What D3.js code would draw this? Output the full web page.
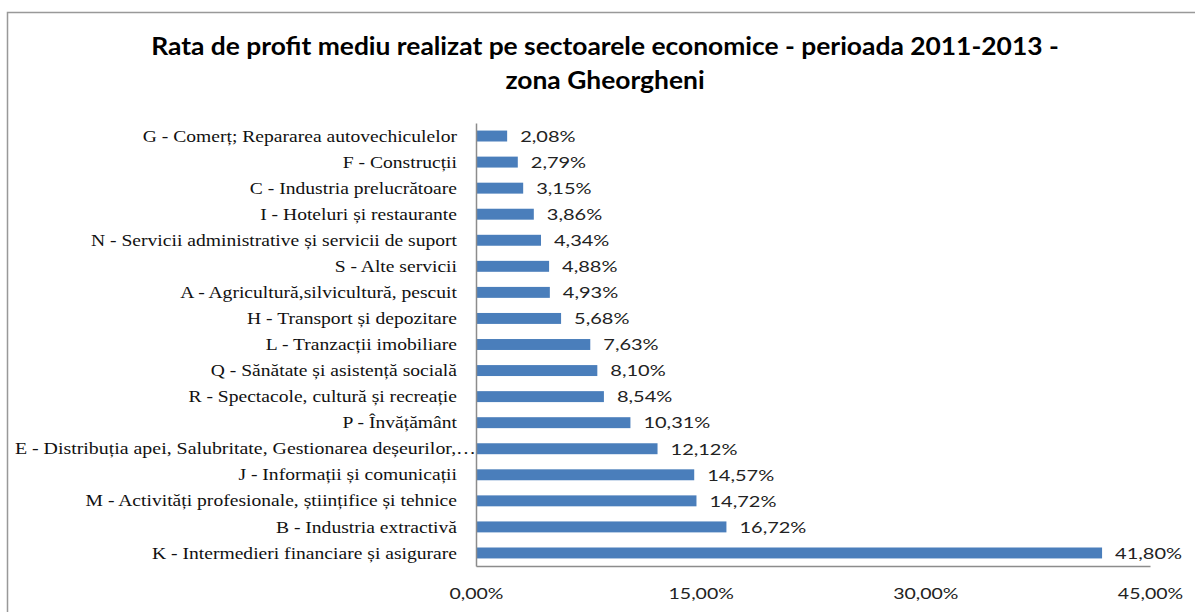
<!DOCTYPE html>
<html>
<head>
<meta charset="utf-8">
<script src="https://cdn.jsdelivr.net/npm/d3@7"></script>
<style>
  html, body { margin: 0; padding: 0; background: #fff; }
  svg { display: block; }
</style>
</head>
<body>
<svg id="chart" width="1195" height="612"></svg>
<script>
const categories = [
  "G - Comerț; Repararea autovechiculelor",
  "F - Construcții",
  "C - Industria prelucrătoare",
  "I - Hoteluri  și restaurante",
  "N - Servicii  administrative  și servicii  de suport",
  "S - Alte servicii",
  "A - Agricultură,silvicultură, pescuit",
  "H - Transport și depozitare",
  "L - Tranzacții imobiliare",
  "Q - Sănătate și asistență socială",
  "R - Spectacole, cultură și recreație",
  "P - Învățământ",
  "E - Distribuția  apei, Salubritate, Gestionarea deșeurilor,…",
  "J - Informații  și comunicații",
  "M - Activități  profesionale, științifice  și tehnice",
  "B - Industria extractivă",
  "K - Intermedieri  financiare  și asigurare"
];
const values = [2.08, 2.79, 3.15, 3.86, 4.34, 4.88, 4.93, 5.68, 7.63, 8.10, 8.54, 10.31, 12.12, 14.57, 14.72, 16.72, 41.80];
const tickValues = [0, 15, 30, 45];
const titleLines = ["Rata de profit mediu realizat pe sectoarele economice - perioada 2011-2013 -", "zona Gheorgheni"];

const svg = d3.select("#chart");
const fmt = v => v.toFixed(2).replace(".", ",") + "%";
const SANS = "Lato, 'Open Sans', sans-serif";

// outer frame
svg.append("rect")
  .attr("x", 7.5).attr("y", 12.5)
  .attr("width", 1300).attr("height", 800)
  .attr("fill", "none").attr("stroke", "#999").attr("stroke-width", 1.5);

// title
svg.append("g").selectAll("text").data(titleLines).join("text")
  .attr("transform", (d, i) => `translate(605,${55 + i * 34}) scale(1.1,1)`)
  .attr("text-anchor", "middle")
  .attr("font-family", SANS)
  .attr("font-weight", "bold")
  .attr("font-size", 24)
  .attr("fill", "#000")
  .text(d => d);

const x = d3.scaleLinear().domain([0, 45]).range([476, 1150]);
const y = d3.scaleBand().domain(categories).range([123, 566]).paddingInner(0.58).paddingOuter(0.29);

// bars
svg.append("g").selectAll("rect").data(values).join("rect")
  .attr("x", x(0))
  .attr("y", (d, i) => y(categories[i]))
  .attr("width", d => x(d) - x(0))
  .attr("height", y.bandwidth())
  .attr("fill", "#4a7ebb");

// value labels
svg.append("g").selectAll("text").data(values).join("text")
  .attr("transform", (d, i) => `translate(${x(d) + 13},${y(categories[i]) + y.bandwidth() / 2}) scale(1.25,1)`)
  .attr("dy", "0.36em")
  .attr("font-family", SANS)
  .attr("font-size", 16)
  .attr("fill", "#222")
  .text(d => fmt(d));

// category axis
const yAxis = svg.append("g").attr("transform", `translate(${x(0)},0)`)
  .call(d3.axisLeft(y).tickSize(0).tickPadding(19));
yAxis.select(".domain").attr("stroke", "#8c8c8c").attr("stroke-width", 1.5);
yAxis.selectAll(".tick text")
  .attr("x", 0)
  .attr("font-family", "'Liberation Serif', 'Times New Roman', serif")
  .attr("font-size", 17.5)
  .attr("fill", "#111")
  .attr("transform", "translate(-19,0) scale(1.12,1)")
  .each(function (d) {
    if (d.endsWith("…")) {
      // truncated label spans from the frame edge up to the axis
      const w = this.getComputedTextLength();
      const sx = (x(0) - 15) / w;
      d3.select(this).attr("transform", `translate(0,0) scale(${sx},1)`);
    }
  });

// value axis
const xAxis = svg.append("g").attr("transform", "translate(0,566)")
  .call(d3.axisBottom(x).tickValues(tickValues).tickSize(0).tickPadding(22).tickFormat(fmt));
xAxis.select(".domain").attr("stroke", "#8c8c8c").attr("stroke-width", 1.5);
xAxis.selectAll(".tick text")
  .attr("y", 0)
  .attr("transform", "translate(0,22) scale(1.22,1)")
  .attr("font-family", SANS)
  .attr("font-size", 16)
  .attr("fill", "#222");
</script>
</body>
</html>
